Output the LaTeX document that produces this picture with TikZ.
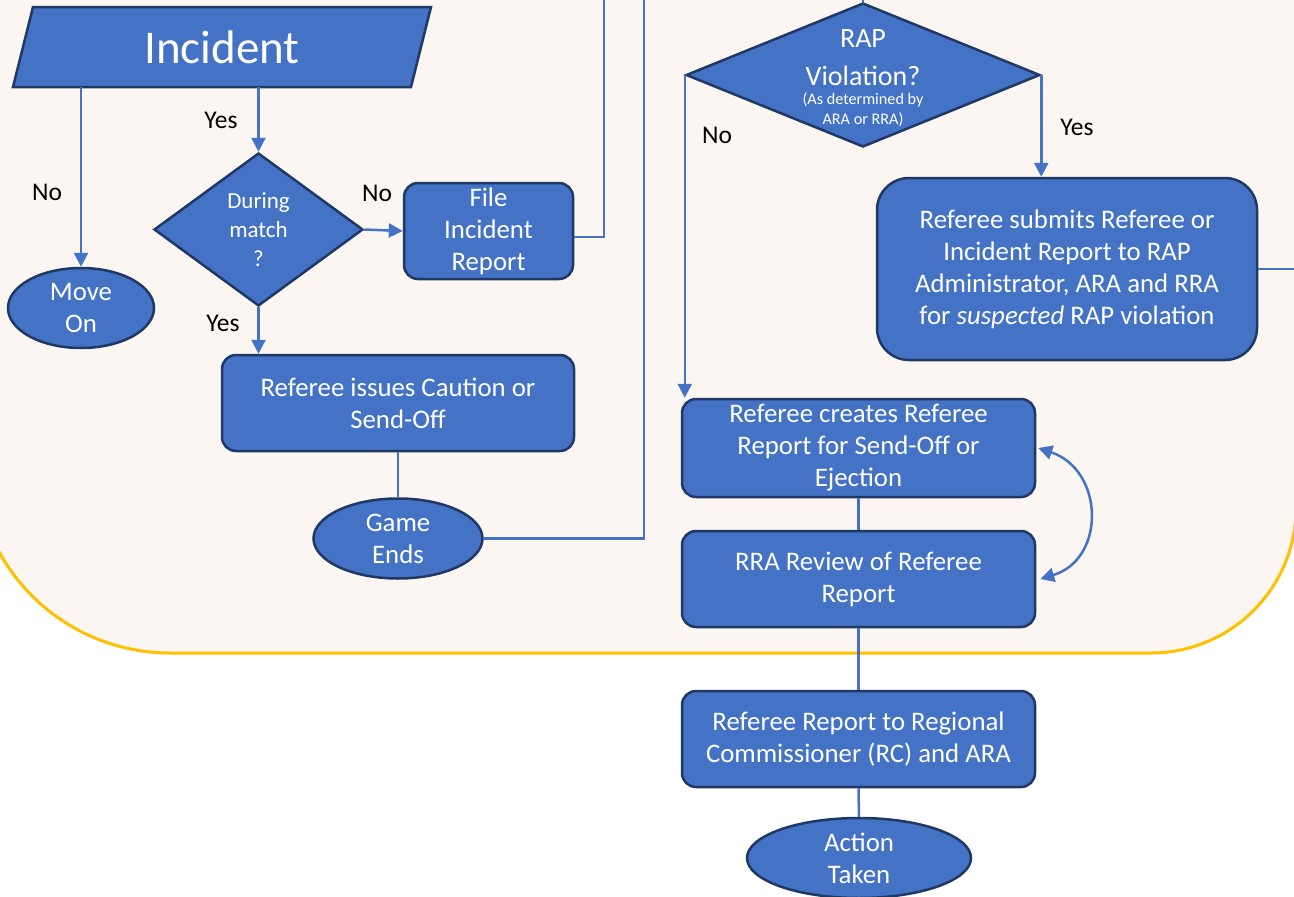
\documentclass[tikz,border=0pt]{standalone}
\usepackage{fontspec}
\setmainfont{Carlito}
\usetikzlibrary{shapes.geometric,arrows.meta}
\definecolor{fillblue}{HTML}{4472C4}
\definecolor{edgeblue}{HTML}{1F3864}
\definecolor{bgcream}{HTML}{FBF6F2}
\definecolor{bordergold}{HTML}{FFC000}
\begin{document}
\begin{tikzpicture}[x=1pt,y=-1pt,
  every node/.style={font=\fontsize{26.8}{32}\selectfont},
  box/.style={rectangle, draw=edgeblue, fill=fillblue, line width=2.5pt, rounded corners=14pt, text=white, align=center, inner sep=0pt},
  ell/.style={ellipse, draw=edgeblue, fill=fillblue, line width=2.5pt, text=white, align=center, inner sep=0pt},
  dia/.style={diamond, draw=edgeblue, fill=fillblue, line width=2.5pt, inner sep=0pt},
  conn/.style={draw=fillblue, line width=2.5pt},
  arr/.style={conn, -{Triangle[width=14pt,length=14pt]}},
  lbl/.style={text=black, font=\fontsize{25.5}{30}\selectfont},
  wtxt/.style={text=white, align=center}]
\useasboundingbox (0,0) rectangle (1294,897);
\fill[white] (0,0) rectangle (1294,897);
% background panel
\filldraw[fill=bgcream, draw=bordergold, line width=3pt]
  (-25,-20) -- (-25,458) .. controls (-25,565.7) and (62.3,653) .. (170,653)
  -- (1151,653) .. controls (1231.1,653) and (1296,588.1) .. (1296,508) -- (1296,-20);
% Incident parallelogram
\filldraw[fill=fillblue, draw=edgeblue, line width=2.5pt] (13,87) -- (33,7) -- (431,7) -- (411,87) -- cycle;
\node[wtxt, minimum width=398pt, minimum height=80pt, inner sep=0pt, font=\fontsize{47}{56}\selectfont] (inc) at (222,47) {Incident};
% nodes
\node[ell, minimum width=146pt, minimum height=80pt] (mo) at (81,308) {Move\\On};
\node[dia, minimum width=209pt, minimum height=153pt, text=white, align=center, font=\fontsize{23}{29}\selectfont] (dm) at (258.5,229.5) {During\\match\\?};
\node[box, minimum width=169pt, minimum height=96pt] (file) at (488.5,231) {File\\Incident\\Report};
\node[box, minimum width=352pt, minimum height=96pt] (iss) at (398,403) {Referee issues Caution or\\Send-Off};
\node[ell, minimum width=169pt, minimum height=80pt] (ge) at (398,538.5) {Game\\Ends};
\node[dia, minimum width=354pt, minimum height=144pt] (rap) at (863,75) {};
\node[wtxt, font=\fontsize{28}{38}\selectfont] (raptxt) at (863,58) {RAP\\Violation?};
\node[wtxt, font=\fontsize{16.2}{20}\selectfont] (rapsub) at (863,110) {(As determined by\\ARA or RRA)};
\node[box, rounded corners=32pt, minimum width=380pt, minimum height=182pt] (sub) at (1067,269) {Referee submits Referee or\\Incident Report to RAP\\Administrator, ARA and RRA\\for \textit{suspected} RAP violation};
\node[box, minimum width=353pt, minimum height=98pt] (cre) at (858.5,448) {Referee creates Referee\\Report for Send-Off or\\Ejection};
\node[box, minimum width=353pt, minimum height=96pt] (rra) at (858.5,579) {RRA Review of Referee\\Report};
\node[box, minimum width=353pt, minimum height=96pt] (rc) at (858.5,739) {Referee Report to Regional\\Commissioner (RC) and ARA};
\node[ell, minimum width=224pt, minimum height=80pt] (act) at (859,858) {Action\\Taken};
% free ends
\coordinate (topA) at (604,-5);
\coordinate (topB) at (644,-5);
\coordinate (topC) at (863,-5);
\coordinate (edgeR) at (1300,269);
% connectors
\draw[arr] (inc.south -| mo.north) -- (mo.north);
\draw[arr] (inc.south -| dm.north) -- (dm.north);
\draw[arr] (dm.east) -- (file.west);
\draw[arr] (dm.south) -- (dm.south |- iss.north);
\draw[conn] (iss.south) -- (ge.north);
\draw[conn] (ge.east) -| (topB);
\draw[conn] ([yshift=-6pt]file.east) -| (topA);
\draw[conn] (rap.north) -- (topC);
\draw[arr] (rap.west) -- (rap.west |- cre.north);
\draw[arr] (rap.east) -- (rap.east |- sub.north);
\draw[conn] (sub.east) -- (edgeR);
\draw[conn] (cre.south) -- (rra.north);
\draw[conn] (rra.south) -- (rc.north);
\draw[conn] (rc.south) -- (act.north);
\draw[conn, {Triangle[width=14pt,length=14pt]}-{Triangle[width=14pt,length=14pt]}]
  ([xshift=2pt]cre.east) .. controls +(66,22) and +(66,-20) .. ([xshift=4pt]rra.east);
% labels
\node[lbl] (l1) at (47,192) {No};
\node[lbl] (l2) at (221,120) {Yes};
\node[lbl] (l3) at (377,193) {No};
\node[lbl] (l4) at (223,323) {Yes};
\node[lbl] (l5) at (717,135) {No};
\node[lbl] (l6) at (1077,127) {Yes};
\end{tikzpicture}
\end{document}
